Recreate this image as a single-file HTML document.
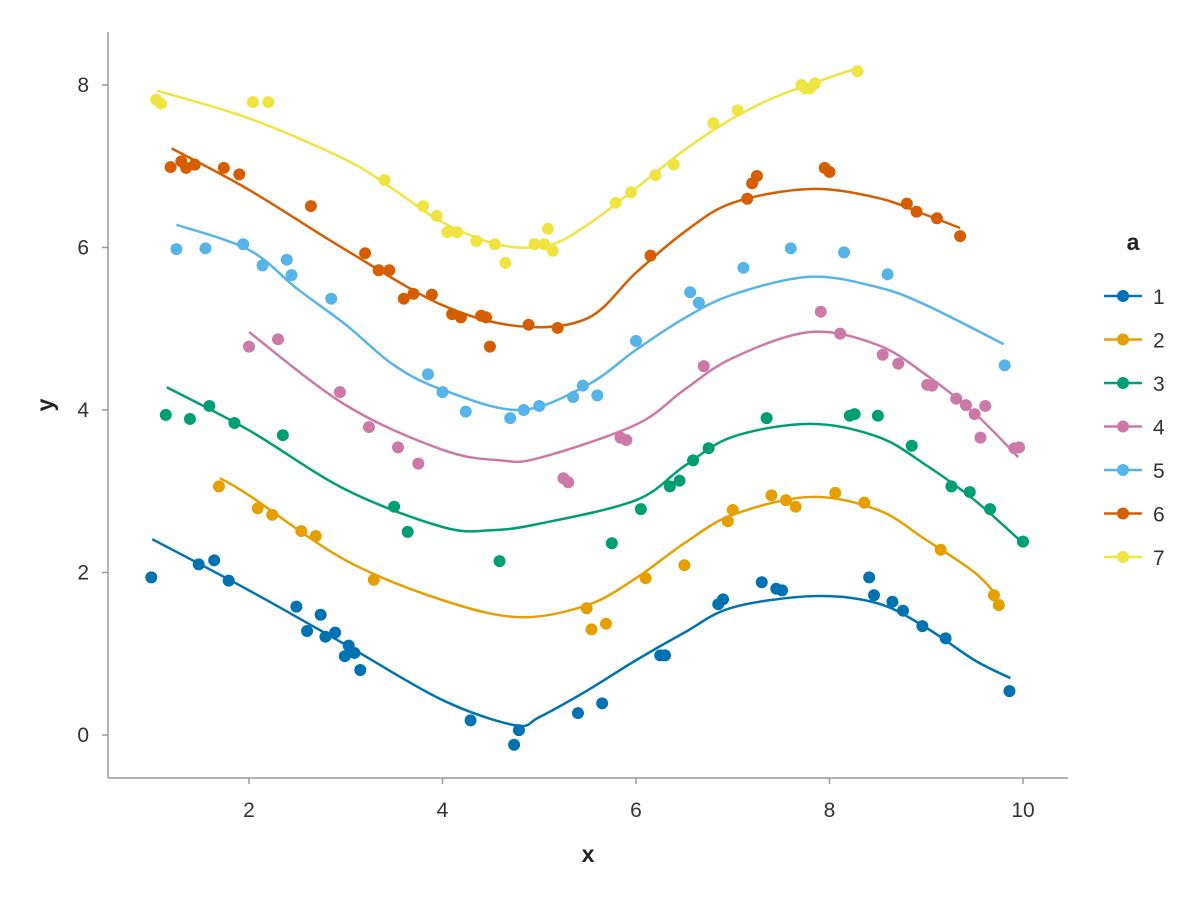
<!DOCTYPE html>
<html><head><meta charset="utf-8"><style>
body{margin:0;background:#fff;}
svg{display:block;font-family:"Liberation Sans",sans-serif;}
</style></head><body>
<svg id="chart" width="1200" height="900" viewBox="0 0 1200 900"></svg>
<script>
const xTicks=[2,4,6,8,10];
const yTicks=[0,2,4,6,8];
const seriesNames=["1","2","3","4","5","6","7"];
const seriesColors=["#0072B2","#E69F00","#009E73","#CC79A7","#56B4E9","#D55E00","#F0E442"];
const pts1=[[0.99,1.94],[1.48,2.10],[1.64,2.15],[1.79,1.90],[2.49,1.58],[2.60,1.28],[2.74,1.48],[2.79,1.21],[2.89,1.26],[2.99,0.97],[3.03,1.10],[3.09,1.01],[3.15,0.80],[4.29,0.18],[4.74,-0.12],[4.79,0.06],[5.40,0.27],[5.65,0.39],[6.25,0.98],[6.30,0.98],[6.85,1.61],[6.90,1.67],[7.30,1.88],[7.45,1.80],[7.51,1.78],[8.41,1.94],[8.46,1.72],[8.65,1.64],[8.76,1.53],[8.96,1.34],[9.20,1.19],[9.86,0.54]];
const pts2=[[1.69,3.06],[2.09,2.79],[2.24,2.71],[2.54,2.51],[2.69,2.45],[3.29,1.91],[5.49,1.56],[5.54,1.30],[5.69,1.37],[6.10,1.93],[6.50,2.09],[6.95,2.63],[7.00,2.77],[7.40,2.95],[7.55,2.89],[7.65,2.81],[8.06,2.98],[8.36,2.86],[9.15,2.28],[9.70,1.72],[9.75,1.60]];
const pts3=[[1.14,3.94],[1.39,3.89],[1.59,4.05],[1.85,3.84],[2.35,3.69],[3.50,2.81],[3.64,2.50],[4.59,2.14],[5.75,2.36],[6.05,2.78],[6.35,3.06],[6.45,3.13],[6.59,3.38],[6.75,3.53],[7.35,3.90],[8.21,3.93],[8.26,3.95],[8.50,3.93],[8.85,3.56],[9.26,3.06],[9.45,2.99],[9.66,2.78],[10.0,2.38]];
const pts4=[[2.0,4.78],[2.30,4.87],[2.94,4.22],[3.24,3.79],[3.54,3.54],[3.75,3.34],[5.25,3.16],[5.30,3.11],[5.84,3.66],[5.90,3.63],[6.70,4.54],[7.91,5.21],[8.11,4.94],[8.55,4.68],[8.71,4.57],[9.01,4.31],[9.06,4.30],[9.31,4.14],[9.41,4.06],[9.50,3.95],[9.56,3.66],[9.61,4.05],[9.91,3.53],[9.96,3.54]];
const pts5=[[1.25,5.98],[1.55,5.99],[1.94,6.04],[2.14,5.78],[2.39,5.85],[2.44,5.66],[2.85,5.37],[3.85,4.44],[4.0,4.22],[4.24,3.98],[4.70,3.90],[4.84,4.0],[5.0,4.05],[5.35,4.16],[5.45,4.30],[5.60,4.18],[6.0,4.85],[6.56,5.45],[6.65,5.32],[7.11,5.75],[7.60,5.99],[8.15,5.94],[8.60,5.67],[9.81,4.55]];
const pts6=[[1.19,6.99],[1.30,7.06],[1.35,6.98],[1.44,7.02],[1.74,6.98],[1.90,6.90],[2.64,6.51],[3.20,5.93],[3.34,5.72],[3.45,5.72],[3.60,5.37],[3.70,5.43],[3.89,5.42],[4.10,5.18],[4.19,5.14],[4.40,5.16],[4.45,5.14],[4.49,4.78],[4.89,5.05],[5.19,5.01],[6.15,5.90],[7.15,6.60],[7.20,6.79],[7.25,6.88],[7.95,6.98],[8.0,6.93],[8.80,6.54],[8.90,6.44],[9.11,6.36],[9.35,6.14]];
const pts7=[[1.04,7.82],[1.09,7.77],[2.04,7.79],[2.20,7.79],[3.40,6.83],[3.80,6.51],[3.94,6.39],[4.05,6.19],[4.15,6.19],[4.35,6.08],[4.54,6.04],[4.65,5.81],[4.95,6.04],[5.05,6.04],[5.09,6.23],[5.14,5.96],[5.79,6.55],[5.95,6.68],[6.20,6.89],[6.39,7.02],[6.80,7.53],[7.05,7.69],[7.71,8.0],[7.75,7.96],[7.80,7.96],[7.85,8.02],[8.29,8.17]];
const fit1=[[1.0,2.41],[2,1.78],[3,1.11],[4,0.43],[4.75,0.12],[5,0.22],[5.5,0.55],[6,0.92],[6.5,1.26],[7,1.57],[7.85,1.71],[8.5,1.62],[9,1.32],[9.5,0.92],[9.87,0.70]];
const fit2=[[1.7,3.16],[2,2.95],[3,2.15],[4,1.66],[4.8,1.45],[5.5,1.6],[6,1.93],[6.5,2.36],[7,2.71],[7.8,2.93],[8.5,2.77],[9,2.4],[9.5,2.0],[9.75,1.69]];
const fit3=[[1.15,4.28],[2,3.75],[3,3.02],[4,2.56],[4.5,2.52],[5,2.6],[6,2.89],[6.5,3.31],[7,3.67],[7.8,3.83],[8.5,3.67],[9,3.32],[9.5,2.89],[10,2.36]];
const fit4=[[2,4.96],[3,4.06],[4,3.51],[4.6,3.38],[5,3.41],[6,3.82],[6.5,4.25],[7,4.64],[7.8,4.96],[8.5,4.8],[9,4.43],[9.5,3.96],[9.95,3.42]];
const fit5=[[1.25,6.28],[2,5.97],[2.5,5.49],[3,5.05],[3.5,4.55],[4,4.25],[4.8,4.0],[5.5,4.31],[6,4.74],[6.5,5.13],[7,5.42],[7.8,5.64],[8.5,5.51],[9,5.29],[9.8,4.81]];
const fit6=[[1.2,7.22],[2,6.71],[3,5.97],[4,5.29],[4.8,5.03],[5.5,5.13],[6,5.69],[6.5,6.19],[7,6.55],[7.8,6.72],[8.5,6.61],[9,6.4],[9.35,6.24]];
const fit7=[[1.05,7.93],[2,7.59],[3,7.08],[3.5,6.71],[4,6.31],[4.6,6.03],[5.1,6.03],[5.5,6.28],[6,6.73],[6.5,7.2],[7,7.59],[7.5,7.88],[8.29,8.21]];
const allPts=[pts1,pts2,pts3,pts4,pts5,pts6,pts7];
const allFits=[fit1,fit2,fit3,fit4,fit5,fit6,fit7];

const NS="http://www.w3.org/2000/svg";
const svg=document.getElementById("chart");
function X(v){return 249+(v-2)*96.75;}
function Y(v){return 735-v*81.25;}
function mk(tag,attrs,parent){const e=document.createElementNS(NS,tag);for(const k in attrs)e.setAttribute(k,attrs[k]);(parent||svg).appendChild(e);return e;}

const axes=mk("g",{});


const xa=mk("line",{x1:108,y1:778,x2:1068,y2:778,stroke:"#9a9a9a","stroke-width":1.5},axes);


const ya=mk("line",{x1:108,y1:32,x2:108,y2:778,stroke:"#9a9a9a","stroke-width":1.5},axes);


xTicks.forEach(t=>{
  const l=mk("line",{x1:X(t),y1:778,x2:X(t),y2:784,stroke:"#9a9a9a","stroke-width":1.5},axes);
  
  
  const tx=mk("text",{x:X(t),y:817,"text-anchor":"middle","font-size":21,fill:"#333"},axes);
  tx.textContent=t;
  
  
});
yTicks.forEach(t=>{
  const l=mk("line",{x1:102,y1:Y(t),x2:108,y2:Y(t),stroke:"#9a9a9a","stroke-width":1.5},axes);
  
  
  const tx=mk("text",{x:89,y:Y(t)+7,"text-anchor":"end","font-size":21,fill:"#333"},axes);
  tx.textContent=t;
  
  
});
const xt=mk("text",{x:588,y:862,"text-anchor":"middle","font-size":23,"font-weight":"bold",fill:"#222"});
xt.textContent="x";


const yt=mk("text",{x:0,y:0,"text-anchor":"middle","font-size":23,"font-weight":"bold",fill:"#222",transform:"translate(53,405) rotate(-90)"});
yt.textContent="y";



function smooth(p){
  const q=p.map(d=>[X(d[0]),Y(d[1])]);
  let s="M"+q[0][0]+","+q[0][1];
  for(let i=0;i<q.length-1;i++){
    const p0=q[i-1]||q[i],p1=q[i],p2=q[i+1],p3=q[i+2]||p2;
    const c1=[p1[0]+(p2[0]-p0[0])/6,p1[1]+(p2[1]-p0[1])/6];
    const c2=[p2[0]-(p3[0]-p1[0])/6,p2[1]-(p3[1]-p1[1])/6];
    s+=" C"+c1+" "+c2+" "+p2;
  }
  return s;
}
allFits.forEach((f,i)=>{
  const p=mk("path",{d:smooth(f),fill:"none",stroke:seriesColors[i],"stroke-width":2.5});
  
  
});
allPts.forEach((ps,i)=>{
  const g=mk("g",{fill:seriesColors[i]});
  
  
  ps.forEach(d=>{
    const c=mk("circle",{cx:X(d[0]),cy:Y(d[1]),r:6},g);
    
    
  });
});
const lg=mk("g",{});


const lt=mk("text",{x:1133,y:250,"text-anchor":"middle","font-size":23,"font-weight":"bold",fill:"#222"},lg);
lt.textContent="a";


seriesNames.forEach((n,i)=>{
  const y=296+i*43.5;
  const e=mk("g",{},lg);
  
  
  mk("line",{x1:1104,y1:y,x2:1142,y2:y,stroke:seriesColors[i],"stroke-width":2.5},e);
  mk("circle",{cx:1123,cy:y,r:6,fill:seriesColors[i]},e);
  const t=mk("text",{x:1153,y:y+8,"font-size":21,fill:"#333"},e);
  t.textContent=n;
});
</script>
</body></html>
